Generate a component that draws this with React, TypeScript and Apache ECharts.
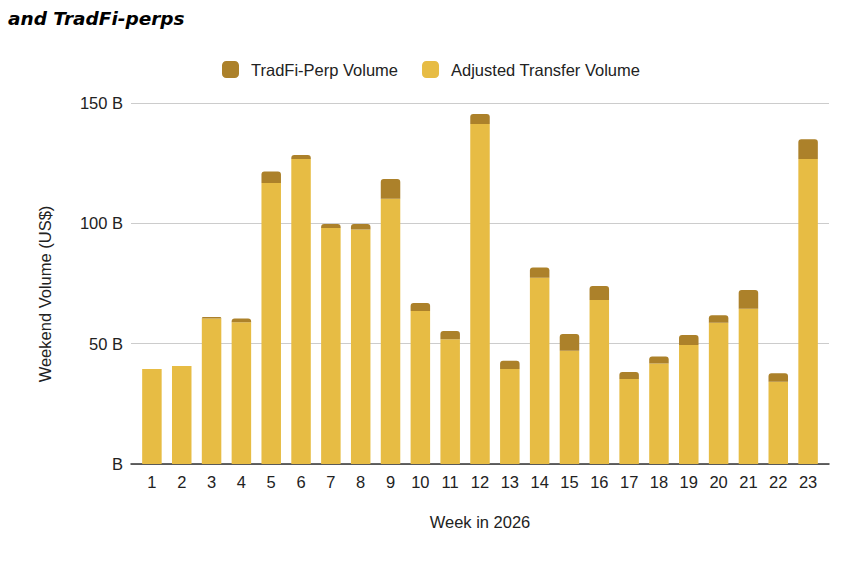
import React, { useEffect, useRef } from "react";
import * as echarts from "echarts";

const weeks = ["1","2","3","4","5","6","7","8","9","10","11","12","13","14","15","16","17","18","19","20","21","22","23"];
const adjustedTransfer = [39.5, 40.7, 60.5, 58.9, 116.8, 126.7, 98.1, 97.4, 110.2, 63.6, 51.8, 141.3, 39.5, 77.4, 47.1, 68.1, 35.3, 41.8, 49.4, 58.7, 64.5, 34.2, 126.7];
const tradfiPerp = [0, 0, 0.6, 1.6, 4.7, 1.7, 1.6, 2.3, 8.2, 3.3, 3.5, 4.1, 3.4, 4.2, 6.9, 5.9, 2.9, 2.9, 4.2, 3.1, 7.8, 3.5, 8.2];
const yTicks = [0, 50, 100, 150];

const FONT = "'Liberation Sans', Arial, sans-serif";
const TEXT = "#222222";

export default function App() {
  const ref = useRef<HTMLDivElement>(null);
  useEffect(() => {
    if (!ref.current) return;
    const chart = echarts.init(ref.current, undefined, { renderer: "svg" });
    chart.setOption({
      animation: false,
      backgroundColor: "#ffffff",
      textStyle: { fontFamily: FONT },
      legend: {
        left: 217,
        top: 56,
        itemWidth: 17,
        itemHeight: 17,
        itemGap: 24,
        icon: "roundRect",
        data: ["TradFi-Perp Volume", "Adjusted Transfer Volume"],
        textStyle: { fontSize: 16.5, color: TEXT, fontFamily: FONT, padding: [0, 0, 0, 7] },
      },
      grid: [
        { left: 131, right: 15, top: 103, bottom: 106 },
        { left: 137, right: 21, top: 103, bottom: 106 },
      ],
      xAxis: [
        {
          type: "value",
          gridIndex: 0,
          min: 0,
          max: 1,
          axisLine: { show: true, lineStyle: { color: "#333333", width: 1.5 } },
          axisTick: { show: false },
          axisLabel: { show: false },
          splitLine: { show: false },
        },
        {
          type: "category",
          gridIndex: 1,
          data: weeks,
          axisLine: { show: false },
          axisTick: { show: false },
          axisLabel: { fontSize: 16.5, color: TEXT, fontFamily: FONT, margin: 9 },
        },
      ],
      yAxis: [
        {
          type: "value",
          gridIndex: 0,
          min: yTicks[0],
          max: yTicks[yTicks.length - 1],
          interval: 50,
          axisLine: { show: false },
          axisTick: { show: false },
          splitLine: { lineStyle: { color: "#cccccc", width: 1 } },
          axisLabel: {
            fontSize: 16.5,
            color: TEXT,
            fontFamily: FONT,
            margin: 8,
            formatter: (v: number) => (v === 0 ? "B" : `${v} B`),
          },
        },
        {
          type: "value",
          gridIndex: 1,
          min: yTicks[0],
          max: yTicks[yTicks.length - 1],
          interval: 50,
          show: false,
          splitLine: { show: false },
        },
      ],
      series: [
        {
          name: "Adjusted Transfer Volume",
          type: "bar",
          stack: "vol",
          xAxisIndex: 1,
          yAxisIndex: 1,
          barWidth: 19.5,
          data: adjustedTransfer,
          itemStyle: { color: "#e7bc44" },
        },
        {
          name: "TradFi-Perp Volume",
          type: "bar",
          stack: "vol",
          xAxisIndex: 1,
          yAxisIndex: 1,
          barWidth: 19.5,
          data: tradfiPerp,
          itemStyle: { color: "#ac812a", borderRadius: [3, 3, 0, 0] },
        },
      ],
      graphic: [
        {
          type: "text",
          left: 8,
          top: 9,
          style: {
            text: "and TradFi-perps",
            fontSize: 18.5,
            fontWeight: "bold",
            fontStyle: "italic",
            fontFamily: "'DejaVu Sans', sans-serif",
            fill: "#000000",
          },
        },
        {
          type: "text",
          x: 480,
          y: 522,
          style: {
            text: "Week in 2026",
            fontSize: 16.5,
            fontFamily: FONT,
            fill: TEXT,
            align: "center",
            verticalAlign: "middle",
          },
        },
        {
          type: "text",
          x: 45,
          y: 294,
          rotation: Math.PI / 2,
          style: {
            text: "Weekend Volume (US$)",
            fontSize: 16.5,
            fontFamily: FONT,
            fill: TEXT,
            align: "center",
            verticalAlign: "middle",
          },
        },
      ],
    });
    return () => chart.dispose();
  }, []);
  return (
    <div
      ref={ref}
      style={{ position: "fixed", left: 0, top: 0, width: 844, height: 570 }}
    />
  );
}
